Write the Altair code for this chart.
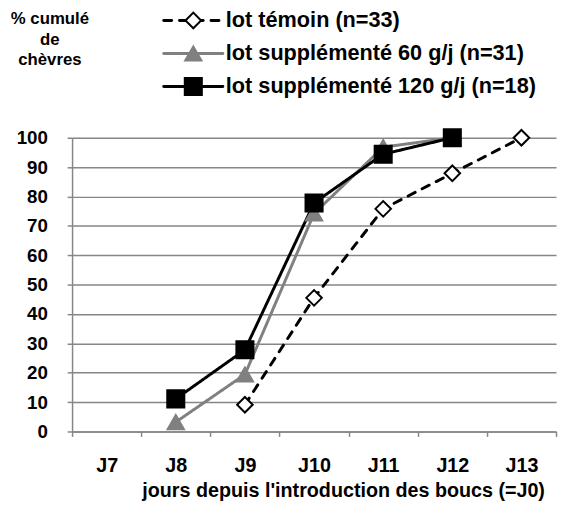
import altair as alt
import pandas as pd

# ---- data ----
days = ["J7", "J8", "J9", "J10", "J11", "J12", "J13"]
series = ["lot témoin (n=33)", "lot supplémenté 60 g/j (n=31)", "lot supplémenté 120 g/j (n=18)"]

temoin_days = ["J9", "J10", "J11", "J12", "J13"]
temoin_vals = [9.1, 45.5, 75.8, 87.9, 100]

s60_days = ["J8", "J9", "J10", "J11", "J12"]
s60_vals = [3.2, 19.4, 74.2, 96.8, 100]

s120_days = ["J8", "J9", "J10", "J11", "J12"]
s120_vals = [11.1, 27.8, 77.8, 94.4, 100]

y_ticks = [0, 10, 20, 30, 40, 50, 60, 70, 80, 90, 100]
y_title = ["% cumulé", "de", "chèvres"]
x_title = "jours depuis l'introduction des boucs (=J0)"

# ---- styles ----
stroke_colors = ["#000000", "#808080", "#000000"]
fill_colors = ["#ffffff", "#808080", "#000000"]
shapes = ["diamond", "triangle-up", "square"]
sizes = [250, 300, 180]
dashes = [[8, 8], [1, 0], [1, 0]]
FONT = "Liberation Sans"
GRID = "#868686"

rows = []
for name, ds, vs in zip(series, [temoin_days, s60_days, s120_days], [temoin_vals, s60_vals, s120_vals]):
    for d, v in zip(ds, vs):
        rows.append({"series": name, "day": d, "value": v})
df = pd.DataFrame(rows)

legend_df = pd.DataFrame({"series": series, "row": list(range(len(series)))})

stroke_enc = alt.Stroke("series:N", scale=alt.Scale(domain=series, range=stroke_colors), legend=None)
dash_enc = alt.StrokeDash("series:N", scale=alt.Scale(domain=series, range=dashes), legend=None)
fill_enc = alt.Fill("series:N", scale=alt.Scale(domain=series, range=fill_colors), legend=None)
shape_enc = alt.Shape("series:N", scale=alt.Scale(domain=series, range=shapes), legend=None)
size_enc = alt.Size("series:N", scale=alt.Scale(domain=series, range=sizes), legend=None)

x_enc = alt.X(
    "day:N",
    sort=days,
    bandPosition=0.5,
    scale=alt.Scale(type="band", domain=days, paddingInner=0, paddingOuter=0),
    axis=alt.Axis(
        title=x_title,
        tickBand="extent",
        tickSize=5,
        labelAngle=0,
        labelPadding=20,
        labelFontSize=20,
        grid=False,
        titleX=275,
        titleY=50,
        titleFontSize=20,
        titleAlign="center",
        titleBaseline="top",
    ),
)
y_enc = alt.Y(
    "value:Q",
    scale=alt.Scale(domain=[0, 100], nice=False, zero=True),
    axis=alt.Axis(
        values=y_ticks,
        title=y_title,
        titleAngle=0,
        titleAlign="center",
        titleBaseline="top",
        titleX=-23,
        titleY=-129,
        titleLineHeight=21,
        titleFontSize=17,
        labelFontSize=19,
        tickSize=5,
        labelPadding=20,
        grid=True,
    ),
)

base = alt.Chart(df)
lines = base.mark_line(strokeWidth=3, strokeCap="round").encode(
    x=x_enc, y=y_enc, stroke=stroke_enc, strokeDash=dash_enc, detail="series:N"
)
points = base.mark_point(filled=False, opacity=1, strokeWidth=2).encode(
    x=x_enc, y=y_enc, stroke=stroke_enc, fill=fill_enc, shape=shape_enc, size=size_enc
)
main = alt.layer(lines, points)

leg_y = alt.Y("row:Q", scale=alt.Scale(domain=[0, 2], range=[-119, -52], nice=False, zero=False), axis=None)
leg_base = alt.Chart(legend_df)
leg_rules = leg_base.mark_rule(strokeWidth=3, strokeCap="round").encode(
    x=alt.value(93), x2=alt.value(153), y=leg_y, stroke=stroke_enc, strokeDash=dash_enc
)
leg_points = leg_base.mark_point(filled=False, opacity=1, strokeWidth=2).encode(
    x=alt.value(123), y=leg_y, stroke=stroke_enc, fill=fill_enc, shape=shape_enc, size=size_enc
)
leg_text = leg_base.mark_text(
    align="left", baseline="middle", font=FONT, fontSize=22, fontWeight="bold", color="#000000"
).encode(x=alt.value(156), y=leg_y, text="series:N")
legend = alt.layer(leg_rules, leg_points, leg_text)

chart = (
    alt.layer(main, legend)
    .resolve_scale(y="independent")
    .properties(
        width=491,
        height=298,
        padding={"left": 65, "top": 128, "right": 2, "bottom": 74},
        autosize=alt.AutoSizeParams(type="none"),
        background="#ffffff",
    )
    .configure_view(strokeWidth=0)
    .configure_axis(
        labelFont=FONT,
        labelFontWeight="bold",
        labelColor="#000000",
        titleFont=FONT,
        titleFontWeight="bold",
        titleColor="#000000",
        domainColor=GRID,
        domainWidth=1.5,
        tickColor=GRID,
        tickWidth=1.5,
        gridColor=GRID,
        gridWidth=1.5,
    )
)

chart.save("out.html", embed_options={"renderer": "svg", "actions": False})
